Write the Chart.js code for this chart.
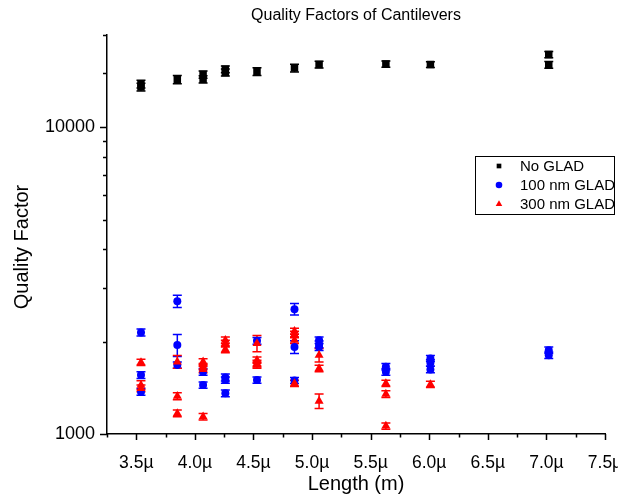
<!DOCTYPE html>
<html>
<head>
<meta charset="utf-8">
<title>Quality Factors of Cantilevers</title>
<script src="https://cdn.jsdelivr.net/npm/chart.js@4.4.1/dist/chart.umd.min.js"></script>
<style>
  html, body { margin: 0; padding: 0; background: #fff; }
</style>
</head>
<body>
<canvas id="qChart" width="618" height="502"></canvas>
<script>
// cantilever length in µm, quality factor and its error bar (+/-)
var noGladLength = [3.54, 3.54, 3.85, 4.07, 4.07, 4.26, 4.26, 4.53, 4.85, 5.06, 5.63, 6.01, 7.02, 7.02];
var noGladQ      = [13860, 13550, 14330, 14880, 14360, 15480, 15110, 15220, 15630, 16040, 16100, 16040, 17290, 16010];
var noGladErr    = [400, 400, 450, 400, 400, 400, 400, 450, 450, 420, 380, 350, 400, 400];

var glad100Length = [3.54, 3.54, 3.54, 3.85, 3.85, 3.85, 4.07, 4.07, 4.26, 4.26, 4.26, 4.53, 4.53, 4.85, 4.85, 4.85, 5.06, 5.06, 5.06, 5.63, 5.63, 6.01, 6.01, 6.01, 7.02, 7.02];
var glad100Q      = [2144, 1557, 1373, 2712, 1950, 1678, 1596, 1444, 1530, 1500, 1357, 2013, 1500, 2554, 1924, 1495, 2024, 1960, 1924, 1657, 1596, 1764, 1707, 1624, 1877, 1808];
var glad100Err    = [55, 40, 35, 125, 160, 40, 40, 35, 40, 35, 35, 50, 35, 110, 92, 35, 50, 50, 50, 40, 40, 40, 40, 40, 45, 45];

var glad300Length = [3.54, 3.54, 3.54, 3.85, 3.85, 3.85, 4.07, 4.07, 4.07, 4.07, 4.26, 4.26, 4.26, 4.53, 4.53, 4.53, 4.53, 4.85, 4.85, 4.85, 4.85, 5.06, 5.06, 5.06, 5.63, 5.63, 5.63, 6.01];
var glad300Q      = [1712, 1444, 1409, 1720, 1329, 1168, 1720, 1659, 1624, 1139, 2024, 1974, 1887, 1974, 1742, 1699, 1678, 2165, 2112, 2024, 1463, 1808, 1637, 1281, 1463, 1350, 1062, 1452];
var glad300Err    = [40, 48, 35, 82, 35, 30, 40, 40, 40, 28, 50, 50, 45, 120, 40, 40, 40, 50, 50, 50, 35, 92, 40, 70, 35, 35, 25, 35];

var xTicksMajor = [3.5, 4.0, 4.5, 5.0, 5.5, 6.0, 6.5, 7.0, 7.5];
var yTicksMajor = [1000, 10000];

var FONT = 'Liberation Sans, Arial, sans-serif';

function points(xs, ys, errs) {
  return xs.map(function (x, i) {
    return { x: x, y: ys[i], err: errs[i] };
  });
}

function isMajorX(v) {
  return xTicksMajor.some(function (m) { return Math.abs(m - v) < 1e-9; });
}

// vertical error bars with caps, drawn under the markers
var errorBars = {
  id: 'errorBars',
  beforeDatasetsDraw: function (chart) {
    var ctx = chart.ctx, xs = chart.scales.x, ys = chart.scales.y;
    chart.data.datasets.forEach(function (ds) {
      ctx.save();
      ctx.strokeStyle = ds.borderColor;
      ctx.lineWidth = 1.5;
      ctx.beginPath();
      ds.data.forEach(function (p) {
        var px = xs.getPixelForValue(p.x);
        var top = ys.getPixelForValue(p.y + p.err);
        var bot = ys.getPixelForValue(p.y - p.err);
        ctx.moveTo(px, top); ctx.lineTo(px, bot);
        ctx.moveTo(px - 4.5, top); ctx.lineTo(px + 4.5, top);
        ctx.moveTo(px - 4.5, bot); ctx.lineTo(px + 4.5, bot);
      });
      ctx.stroke();
      ctx.restore();
    });
  }
};

// outward tick marks, long for labelled values and short otherwise
var axisTicks = {
  id: 'axisTicks',
  afterDraw: function (chart) {
    var ctx = chart.ctx, xs = chart.scales.x, ys = chart.scales.y, area = chart.chartArea;
    ctx.save();
    ctx.strokeStyle = '#000';
    ctx.lineWidth = 1.5;
    ctx.beginPath();
    xs.ticks.forEach(function (t) {
      var px = Math.round(xs.getPixelForValue(t.value)) + 0.5;
      var len = isMajorX(t.value) ? 6 : 3.5;
      ctx.moveTo(px, area.bottom);
      ctx.lineTo(px, area.bottom + len);
    });
    ys.ticks.forEach(function (t) {
      var py = Math.round(ys.getPixelForValue(t.value)) + 0.5;
      var len = yTicksMajor.indexOf(t.value) >= 0 ? 7 : 4;
      ctx.moveTo(area.left, py);
      ctx.lineTo(area.left - len, py);
    });
    ctx.stroke();

    // y axis title
    ctx.fillStyle = '#000';
    ctx.font = '20px ' + FONT;
    ctx.textAlign = 'center';
    ctx.textBaseline = 'middle';
    ctx.translate(22, 247);
    ctx.rotate(-Math.PI / 2);
    ctx.fillText('Quality Factor', 0, 0);
    ctx.restore();
  }
};

// boxed legend inside the plot
var boxLegend = {
  id: 'boxLegend',
  afterDraw: function (chart) {
    var ctx = chart.ctx;
    var left = 475, top = 156, w = 139, h = 58;
    ctx.save();
    ctx.strokeStyle = '#000';
    ctx.lineWidth = 1;
    ctx.strokeRect(left + 0.5, top + 0.5, w, h);
    ctx.font = '15px ' + FONT;
    ctx.textAlign = 'left';
    ctx.textBaseline = 'middle';
    chart.data.datasets.forEach(function (ds, i) {
      var y = top + 10 + i * 19;
      ctx.fillStyle = ds.backgroundColor;
      Chart.helpers.drawPoint(ctx, {
        pointStyle: ds.pointStyle, radius: ds.pointStyle === 'triangle' ? 3.8 : 3.3,
        rotation: 0, borderWidth: 0
      }, 499, y);
      ctx.fillStyle = '#000';
      ctx.fillText(ds.label, 520, y + 1);
    });
    ctx.restore();
  }
};

new Chart(document.getElementById('qChart'), {
  type: 'scatter',
  data: {
    datasets: [
      {
        label: 'No GLAD',
        data: points(noGladLength, noGladQ, noGladErr),
        pointStyle: 'rect', pointRadius: 5.3,
        backgroundColor: '#000', borderColor: '#000', borderWidth: 0,
        order: 3
      },
      {
        label: '100 nm GLAD',
        data: points(glad100Length, glad100Q, glad100Err),
        pointStyle: 'circle', pointRadius: 4,
        backgroundColor: '#0000ff', borderColor: '#0000ff', borderWidth: 0,
        order: 2
      },
      {
        label: '300 nm GLAD',
        data: points(glad300Length, glad300Q, glad300Err),
        pointStyle: 'triangle', pointRadius: 5.2,
        backgroundColor: '#ff0000', borderColor: '#ff0000', borderWidth: 0,
        order: 1
      }
    ]
  },
  options: {
    responsive: false,
    animation: false,
    events: [],
    layout: { padding: { left: 0, right: 13, top: 0, bottom: 0 } },
    plugins: {
      legend: { display: false },
      tooltip: { enabled: false },
      title: {
        display: true,
        fullSize: false,
        text: 'Quality Factors of Cantilevers',
        color: '#000',
        font: { family: FONT, size: 16, weight: 'normal' },
        padding: { top: 6, bottom: 10 }
      }
    },
    scales: {
      x: {
        type: 'linear',
        min: 3.25,
        max: 7.5,
        grid: { display: false },
        border: { display: true, color: '#000', width: 1.5 },
        ticks: {
          stepSize: 0.25,
          autoSkip: false,
          maxRotation: 0,
          padding: 11,
          color: '#000',
          font: { family: FONT, size: 17.5 },
          callback: function (v) { return isMajorX(v) ? v.toFixed(1) + 'µ' : ''; }
        },
        title: {
          display: true,
          text: 'Length (m)',
          color: '#000',
          font: { family: FONT, size: 20 },
          padding: { top: 0, bottom: 6 }
        },
        afterFit: function (s) {
          s.height = 68;
          s.paddingLeft = 0;
          s.paddingRight = 0;
        }
      },
      y: {
        type: 'logarithmic',
        min: 1000,
        max: 20000,
        grid: { display: false },
        border: { display: true, color: '#000', width: 1.5 },
        ticks: {
          autoSkip: false,
          padding: 4,
          color: '#000',
          font: { family: FONT, size: 18 },
          callback: function (v) { return yTicksMajor.indexOf(v) >= 0 ? String(v) : ''; }
        },
        afterFit: function (s) {
          s.width = 107;
          s.paddingTop = 0;
          s.paddingBottom = 0;
        }
      }
    }
  },
  plugins: [errorBars, axisTicks, boxLegend]
});
</script>
</body>
</html>
